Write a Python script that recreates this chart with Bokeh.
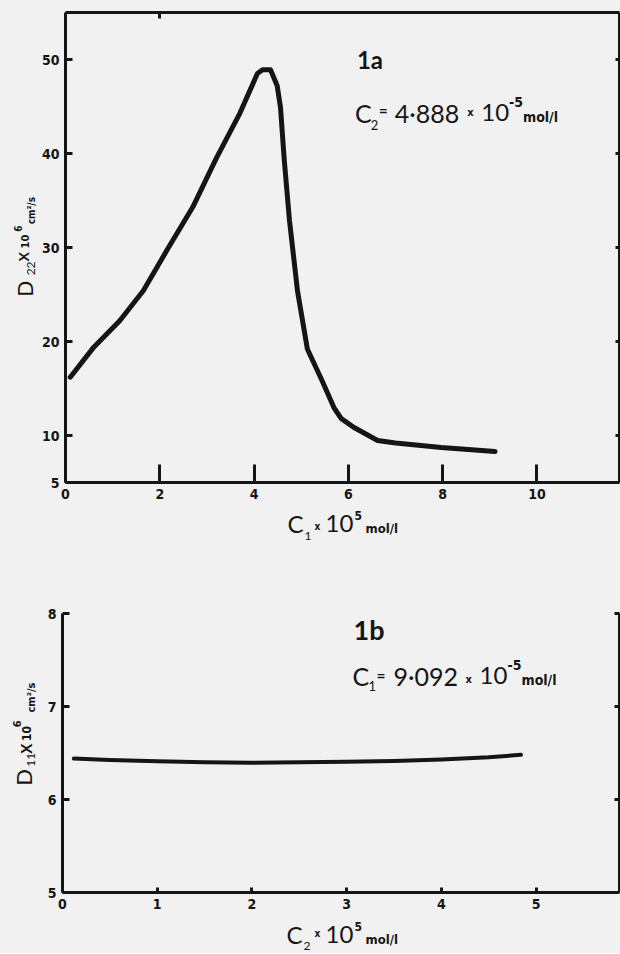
import math
from bokeh.plotting import figure
from bokeh.models import Label, LinearAxis, FixedTicker, Range1d
from bokeh.layouts import column, row
from bokeh.embed import file_html
from bokeh.resources import INLINE

# ---- data ----
c1 = [0.1, 0.6, 1.15, 1.65, 2.15, 2.7, 3.2, 3.7, 4.07, 4.18, 4.35, 4.49, 4.56,
      4.64, 4.75, 4.92, 5.13, 5.44, 5.70, 5.85, 6.12, 6.62, 7.0, 7.97, 9.11]
d22 = [16.2, 19.4, 22.2, 25.4, 29.7, 34.3, 39.5, 44.3, 48.5, 48.9, 48.9, 47.2, 44.9,
       39.3, 32.9, 25.4, 19.2, 15.85, 12.9, 11.8, 10.85, 9.47, 9.2, 8.72, 8.3]

c2 = [0.12, 0.5, 1.0, 1.5, 2.0, 2.5, 3.0, 3.5, 4.0, 4.5, 4.84]
d11 = [6.44, 6.425, 6.41, 6.40, 6.395, 6.40, 6.405, 6.415, 6.43, 6.455, 6.48]

top_xticks = [0, 2, 4, 6, 8, 10]
top_yticks = [5, 10, 20, 30, 40, 50]
top_rticks = [10, 20, 30, 40, 50]
top_aticks = [2]
bot_xticks = [0, 1, 2, 3, 4, 5]
bot_yticks = [5, 6, 7, 8]
bot_rticks = [6, 7, 8]

BG = "#f1f1f1"
INK = "#151515"
COND = "DejaVu Sans Condensed"
BIG = "Lato"
K = 0.4   # baseline correction (fraction of font size)
STRIP = 38
H1 = 506          # top panel figure height (frame 12..482)
H2 = 324          # bottom panel figure height (frame 613..892)
Y2 = 590          # page y where bottom block starts
YT2 = Y2 + H2     # page y where bottom title strip starts
TOTAL = 953


def make_axis(ticks, tick_in, labels=True, size="14px", standoff=6):
    return LinearAxis(ticker=FixedTicker(ticks=ticks), major_tick_in=tick_in, major_tick_out=0,
                      minor_tick_line_color=None, axis_line_width=3, axis_line_color=INK,
                      major_tick_line_width=3, major_tick_line_color=INK,
                      major_label_text_font=COND, major_label_text_font_style="bold",
                      major_label_text_font_size=size if labels else "0px",
                      major_label_text_color=INK if labels else None,
                      major_label_standoff=standoff if labels else 0)


def base_fig(w, h, xr, yr, bl=0, br=0, bt=0, bb=0):
    p = figure(width=w, height=h, x_range=Range1d(*xr), y_range=Range1d(*yr),
               output_backend="svg", toolbar_location=None,
               x_axis_type=None, y_axis_type=None,
               min_border_left=bl, min_border_right=br, min_border_top=bt, min_border_bottom=bb,
               background_fill_color=BG, border_fill_color=BG)
    p.outline_line_color = None
    return p


def lab(p, conv, px, py, text, font, size, style="normal", rotated=False):
    if rotated:
        px = px - K * size
    else:
        py = py - K * size
    x, y = conv(px, py)
    p.add_layout(Label(x=x, y=y, text=text, text_font=font, text_font_size=f"{size}px",
                       text_font_style=style, text_align="left", text_baseline="alphabetic",
                       angle=(math.pi / 2 if rotated else 0.0), angle_units="rad",
                       text_color=INK))


def ident(px, py):
    return (px, py)


# ---------------- top panel (1a) ----------------
p1 = base_fig(620 - STRIP, H1, (0, 11.75), (5, 55), bl=62 - STRIP, br=1, bt=12, bb=H1 - 482)
p1.add_layout(make_axis(top_yticks, 7), "left")
p1.add_layout(make_axis(top_xticks, 18, standoff=6), "below")
p1.add_layout(make_axis(top_rticks, 4, labels=False), "right")
p1.add_layout(make_axis(top_aticks, 6, labels=False), "above")
p1.line(c1, d22, line_width=5, line_color=INK, line_join="round", line_cap="round")


def conv1(px, py):
    return ((px - 62) / (557 / 11.75), 5 + (482 - py) / 9.4)


lab(p1, conv1, 355, 69, "1a", BIG, 24, "bold")
lab(p1, conv1, 353, 122, "C", BIG, 25)
lab(p1, conv1, 369, 130, "2", BIG, 13)
lab(p1, conv1, 377, 115, "=", COND, 12, "bold")
lab(p1, conv1, 393, 122, "4·888", BIG, 25)
lab(p1, conv1, 466, 116, "x", COND, 11, "bold")
lab(p1, conv1, 480, 122, "10", BIG, 24)
lab(p1, conv1, 508, 107, "-5", COND, 14, "bold")
lab(p1, conv1, 522, 122, "mol/l", COND, 14, "bold")

# y-axis title strip (top)
yl1 = base_fig(STRIP, H1, (0, STRIP), (H1, 0))
lab(yl1, ident, 32, 306, "D", BIG, 21, rotated=True)
lab(yl1, ident, 35, 283, "22", BIG, 12, rotated=True)
lab(yl1, ident, 29, 268, "X", BIG, 14, "bold", rotated=True)
lab(yl1, ident, 29, 254, "10", COND, 11, "bold", rotated=True)
lab(yl1, ident, 21, 236, "6", COND, 10, "bold", rotated=True)
lab(yl1, ident, 35, 228, "cm²/s", COND, 10, "bold", rotated=True)

# x-axis title strip (top)
xt1 = base_fig(620, Y2 - H1, (0, 620), (Y2, H1))
lab(xt1, ident, 287, 533, "C", BIG, 24)
lab(xt1, ident, 304, 540, "1", BIG, 12)
lab(xt1, ident, 314, 530, "x", COND, 10, "bold")
lab(xt1, ident, 325, 533, "10", BIG, 24)
lab(xt1, ident, 354, 520, "5", COND, 12, "bold")
lab(xt1, ident, 365, 533, "mol/l", COND, 13, "bold")

# ---------------- bottom panel (1b) ----------------
p2 = base_fig(620 - STRIP, H2, (0, 5.88), (5, 8), bl=62 - STRIP, br=1,
              bt=613 - Y2, bb=Y2 + H2 - 892)
p2.add_layout(make_axis(bot_yticks, 7), "left")
p2.add_layout(make_axis(bot_xticks, 5, standoff=6), "below")
p2.add_layout(make_axis(bot_rticks, 5, labels=False), "right")
p2.line(c2, d11, line_width=4, line_color=INK, line_join="round", line_cap="round")


def conv2(px, py):
    return ((px - 62) / (557 / 5.88), 5 + (892 - py) / 93.0)


lab(p2, conv2, 353, 640, "1b", BIG, 27, "bold")
lab(p2, conv2, 352, 685, "C", BIG, 25)
lab(p2, conv2, 368, 691, "1", BIG, 13)
lab(p2, conv2, 376, 680, "=", COND, 12, "bold")
lab(p2, conv2, 393, 685, "9·092", BIG, 25)
lab(p2, conv2, 465, 683, "x", COND, 11, "bold")
lab(p2, conv2, 479, 685, "10", BIG, 24)
lab(p2, conv2, 507, 670, "-5", COND, 14, "bold")
lab(p2, conv2, 521, 685, "mol/l", COND, 14, "bold")

# y-axis title strip (bottom)
yl2 = base_fig(STRIP, H2, (0, STRIP), (Y2 + H2, Y2))
lab(yl2, ident, 32, 790, "D", BIG, 22, rotated=True)
lab(yl2, ident, 35, 768, "11", BIG, 12, rotated=True)
lab(yl2, ident, 31, 753, "X", BIG, 15, "bold", rotated=True)
lab(yl2, ident, 31, 738, "10", COND, 12, "bold", rotated=True)
lab(yl2, ident, 21, 722, "6", COND, 11, "bold", rotated=True)
lab(yl2, ident, 35, 705, "cm²/s", COND, 11, "bold", rotated=True)

# x-axis title strip (bottom)
xt2 = base_fig(620, TOTAL - YT2, (0, 620), (TOTAL, YT2))
lab(xt2, ident, 286, 944, "C", BIG, 24)
lab(xt2, ident, 303, 950, "2", BIG, 12)
lab(xt2, ident, 314, 937, "x", COND, 10, "bold")
lab(xt2, ident, 325, 944, "10", BIG, 24)
lab(xt2, ident, 354, 931, "5", COND, 12, "bold")
lab(xt2, ident, 365, 944, "mol/l", COND, 13, "bold")

bgstyle = {"background-color": BG}
layout = column(row(yl1, p1, spacing=0, styles=bgstyle), xt1,
                row(yl2, p2, spacing=0, styles=bgstyle), xt2,
                spacing=0, styles=bgstyle)
open("out.html", "w").write(file_html(layout, INLINE))
